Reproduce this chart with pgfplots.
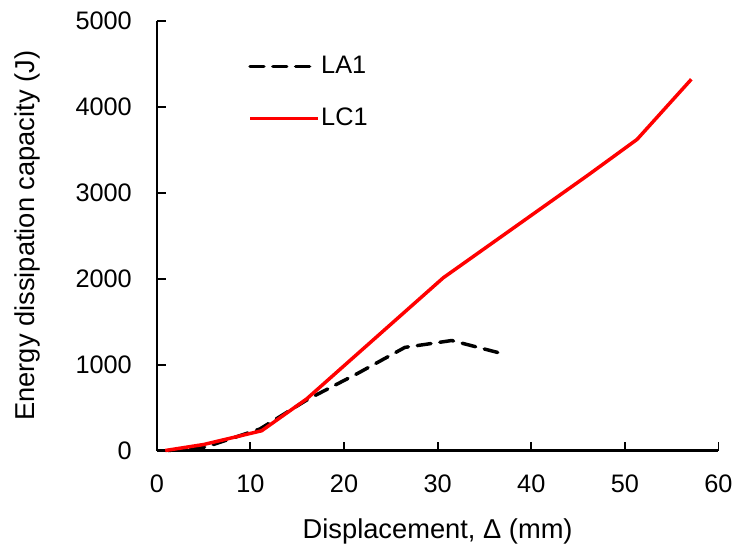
\documentclass[border=0pt]{standalone}
\usepackage{fontspec}
\setmainfont{Liberation Sans}
\usepackage{pgfplots}
\pgfplotsset{compat=1.18}
\begin{document}
\fontsize{25.5}{30}\selectfont
\begin{tikzpicture}
\begin{axis}[
  scale only axis,
  width=566pt, height=433pt,
  xmin=0, xmax=60, ymin=0, ymax=5000,
  xtick={0,10,...,60}, ytick={0,1000,...,5000},
  axis x line*=bottom, axis y line*=left,
  axis line style={line width=2.2pt},
  tick style={line width=2pt, black},
  major tick length=9pt,
  tick align=inside,
  /pgf/number format/assume math mode=true,
  /pgf/number format/1000 sep={},
  ticklabel style={font=\fontsize{25.5}{30}\selectfont},
  xticklabel style={yshift=-15.5pt},
  yticklabel style={xshift=-16.5pt},
  xlabel={Displacement, Δ (mm)},
  ylabel={Energy dissipation capacity (J)},
  label style={font=\fontsize{27.5}{32}\selectfont},
  xlabel style={at={(axis description cs:0.5,-0.2055)}, anchor=base},
  ylabel style={at={(axis description cs:-0.2297,0.5)}, anchor=center},
  legend style={draw=none, fill=none, at={(axis description cs:0.1625,0.924)}, anchor=north west,
    font=\fontsize{25.5}{30}\selectfont, row sep=27pt, inner sep=0pt},
  legend cell align=left,
  legend image code/.code={\draw[#1] (0pt,0pt) -- (68pt,0pt);},
  clip=false,
]
\addplot[black, line width=3.5pt, dash pattern=on 14pt off 9pt, line cap=round] coordinates {
(1.2,0) (5.2,40) (11,250) (16.2,600) (21.5,900) (26.5,1200) (31.5,1280) (36.8,1130)
};
\addlegendentry{LA1}
\addplot[red, line width=3.5pt] coordinates {
(0.9,0) (5,70) (11.2,230) (16,600) (30.6,2010) (46,3200) (51.3,3620) (57.1,4320)
};
\addlegendentry{LC1}
\path (axis description cs:-0.2792,-0.2379) rectangle (axis description cs:1.0300,1.0485);
\end{axis}
\end{tikzpicture}
\end{document}
